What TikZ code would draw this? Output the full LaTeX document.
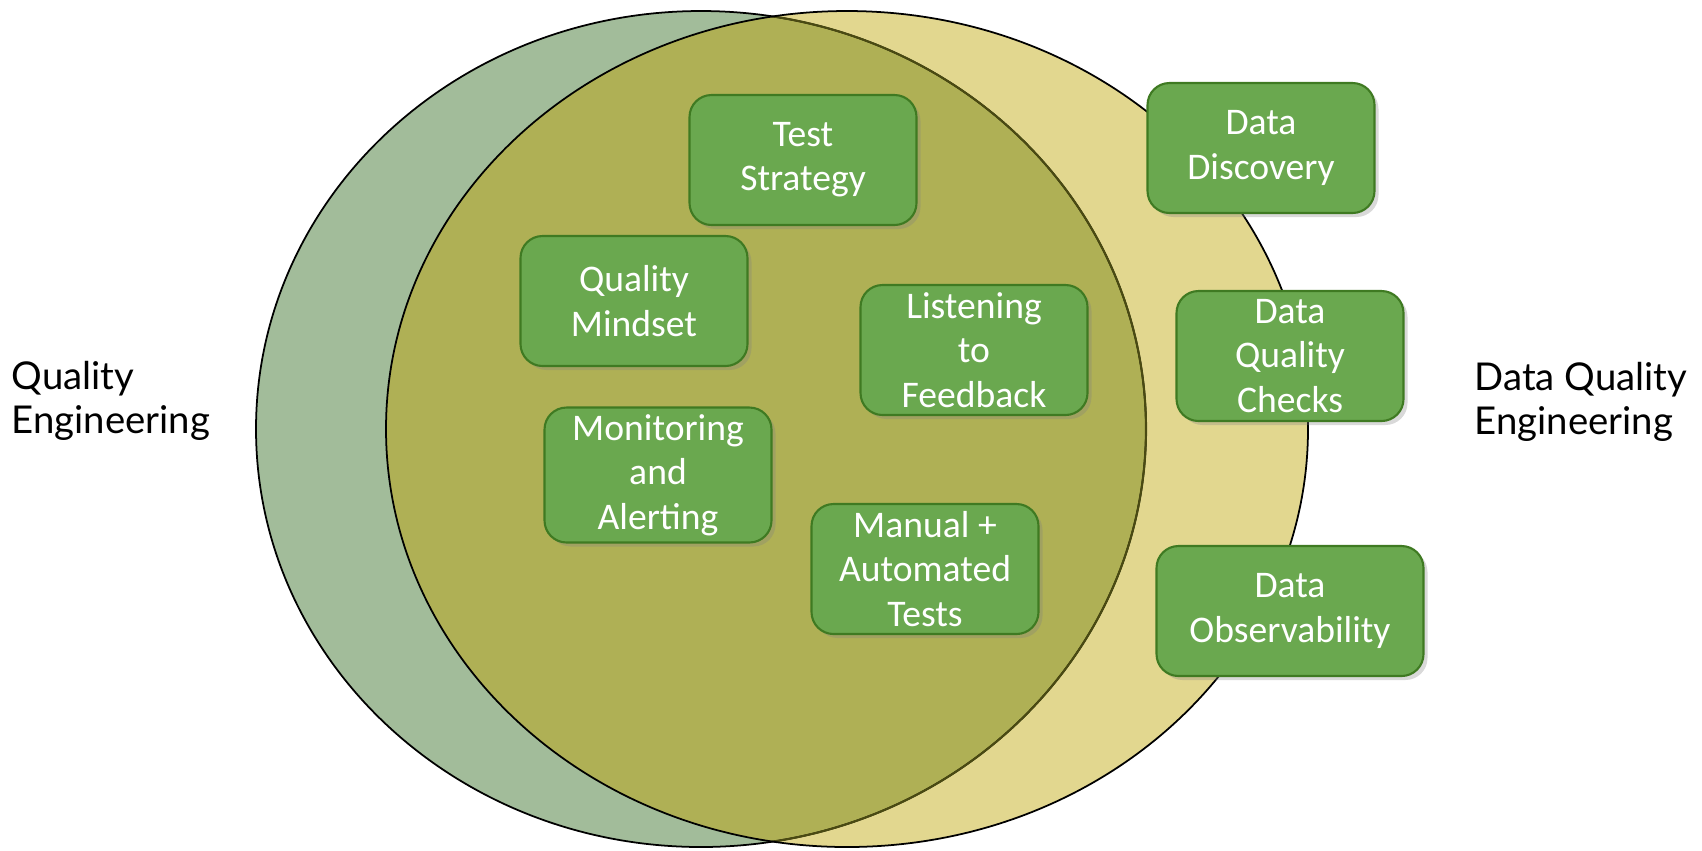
\documentclass[tikz,border=0pt]{standalone}
\usepackage{fontspec}
\setmainfont{Carlito}
\newfontfamily\labelfont{Lato}
\usepackage{tikz}
\usetikzlibrary{shadows}
\definecolor{qegreen}{HTML}{A2BC9A}
\definecolor{dqyellow}{HTML}{E2D78F}
\definecolor{overlapol}{HTML}{AFB055}
\definecolor{darkol}{HTML}{4A4A12}
\definecolor{boxfill}{HTML}{6AA84F}
\definecolor{boxline}{HTML}{3F7A22}
\tikzset{
  gbox/.style={draw=boxline, line width=0.6pt, fill=boxfill, rounded corners=2.2mm, align=center, text=white, font=\fontsize{10.7}{12.6}\selectfont, minimum width=22.7mm, minimum height=13mm, inner sep=2pt, drop shadow={opacity=0.3, shadow xshift=0.4mm, shadow yshift=-0.4mm}},
  sidelbl/.style={align=left, anchor=west, inner sep=0pt, font=\labelfont\fontsize{10.9}{12.6}\selectfont},
  qecirc/.style={x radius=44.5mm, y radius=41.8mm},
  dqcirc/.style={x radius=46.1mm, y radius=41.8mm}
}

\begin{document}
\begin{tikzpicture}[x=0.1mm, y=-0.1mm]
\useasboundingbox (0,0) rectangle (1702,850);
% the two circles and their overlap
\fill[qegreen] (701,429) ellipse [qecirc];
\fill[dqyellow] (847,429) ellipse [dqcirc];
\begin{scope}
  \clip (701,429) ellipse [qecirc];
  \fill[overlapol] (847,429) ellipse [dqcirc];
\end{scope}
\draw[line width=0.5pt] (701,429) ellipse [qecirc];
\begin{scope}
  \clip (847,429) ellipse [dqcirc];
  \draw[darkol, line width=0.6pt] (701,429) ellipse [qecirc];
\end{scope}
\draw[line width=0.5pt] (847,429) ellipse [dqcirc];

\node[sidelbl] (qe) at (11,401) {Quality\\Engineering};
\node[sidelbl] (dqe) at (1474,402) {Data Quality\\Engineering};

\node[gbox] (b1) at (803,160) {Test\\Strategy};
\node[gbox] (b2) at (634,301) {Quality\\Mindset};
\node[gbox] (b3) at (974,350) {Listening\\to\\Feedback};
\node[gbox] (b4) at (658,475) {Monitoring\\and\\Alerting};
\node[gbox] (b5) at (925,569) {Manual +\\Automated\\Tests};
\node[gbox] (b6) at (1261,148) {Data\\Discovery};
\node[gbox] (b7) at (1290,356) {Data\\Quality\\Checks};
\node[gbox, minimum width=26.7mm] (b8) at (1290,611) {Data\\Observability};
\end{tikzpicture}
\end{document}
